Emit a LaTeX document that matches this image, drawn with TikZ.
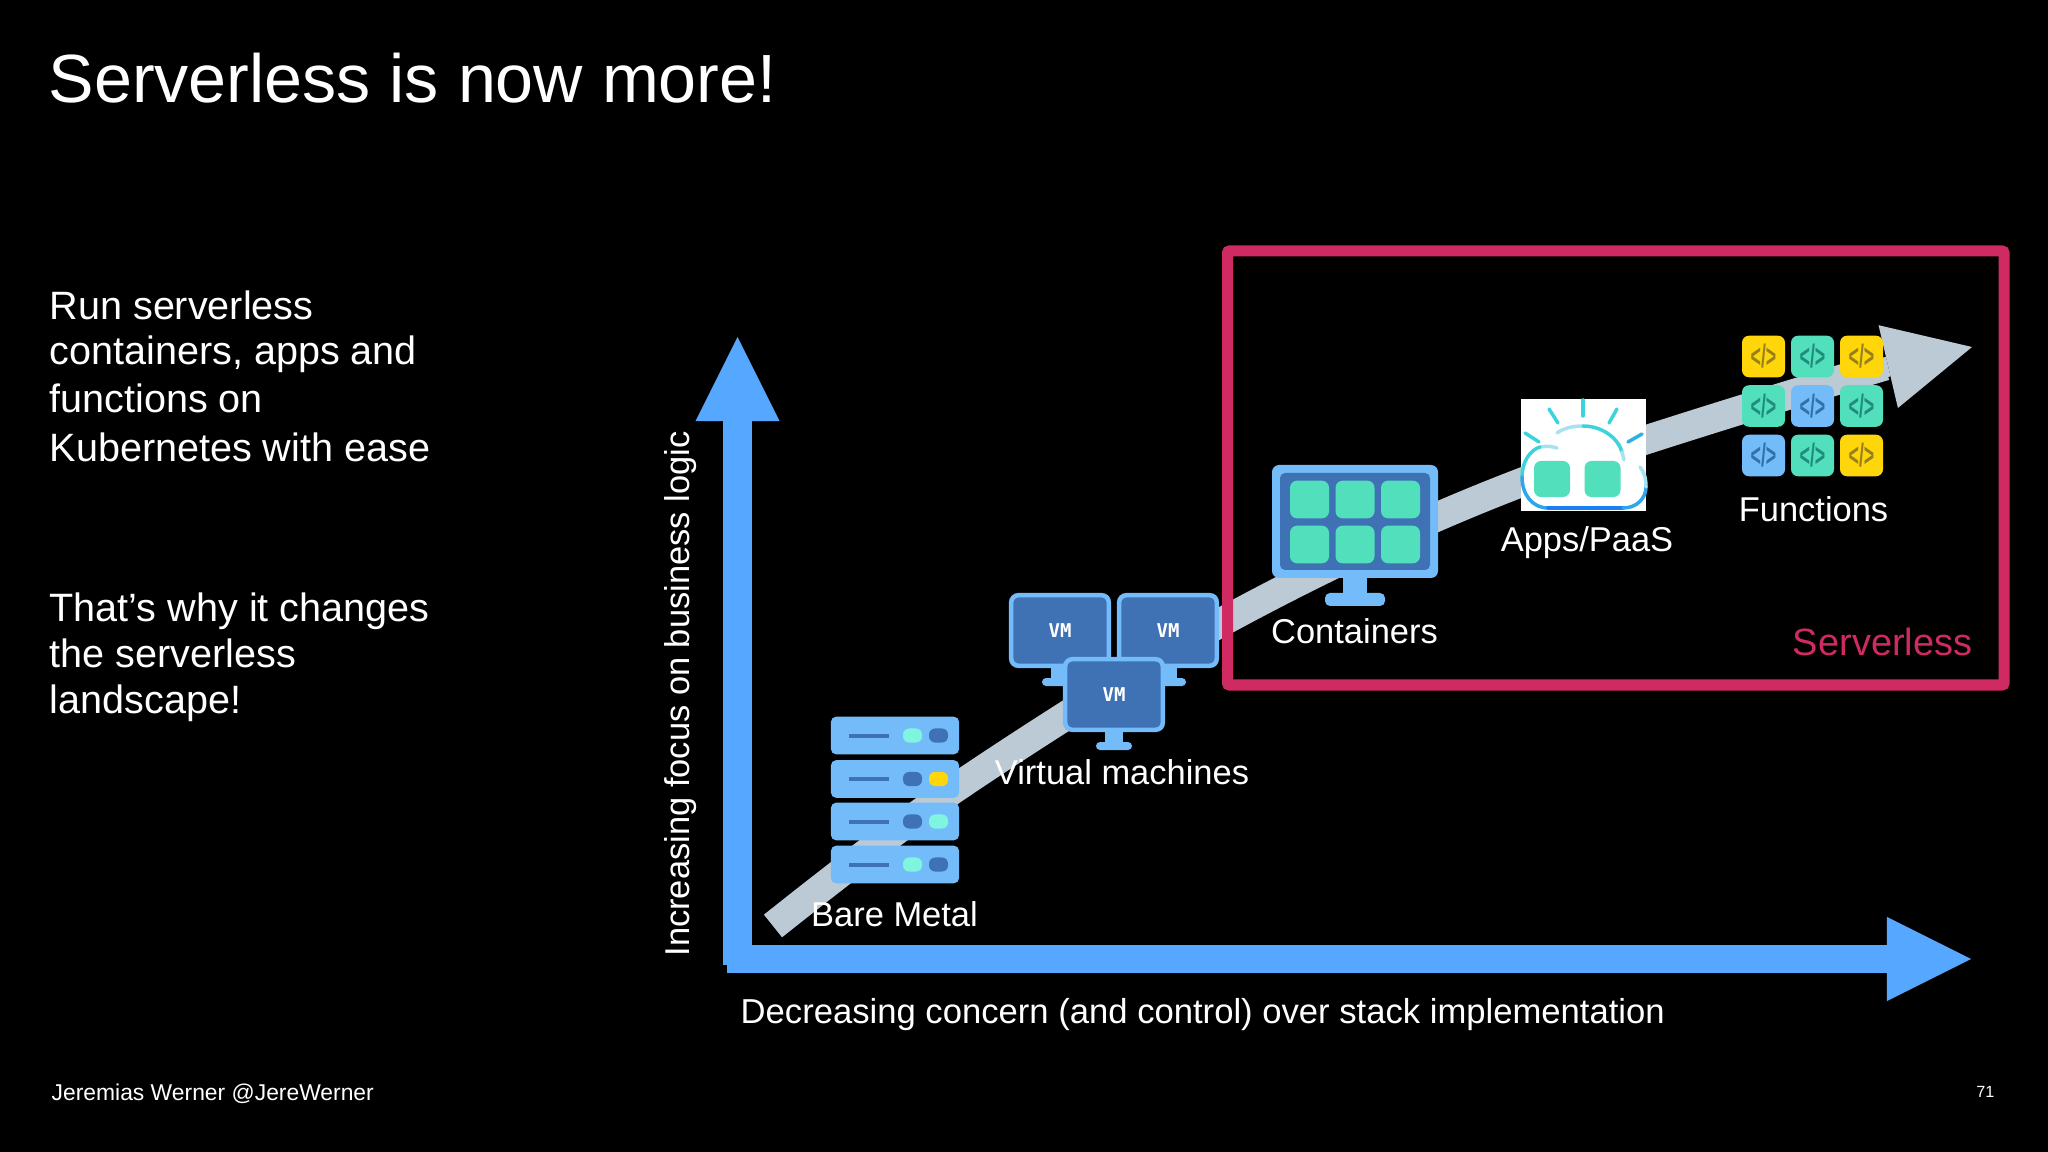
\documentclass[tikz,border=0pt]{standalone}
\usepackage{fontspec}
\setmainfont{Liberation Sans}
\newfontfamily\vmfont{DejaVu Sans Mono}
\usetikzlibrary{arrows.meta}

\definecolor{axisblue}{HTML}{55A7FF}
\definecolor{trendgrey}{HTML}{BCCAD6}
\definecolor{boxpink}{HTML}{D02A62}
\definecolor{iconlight}{HTML}{74BBFA}
\definecolor{icondark}{HTML}{3F72B5}
\definecolor{iconmint}{HTML}{52DFBB}
\definecolor{ledmint}{HTML}{7FF5E0}
\definecolor{iconyellow}{HTML}{FFD60A}
\definecolor{glyphyellow}{HTML}{96801E}
\definecolor{glyphmint}{HTML}{1F8C7C}
\definecolor{glyphblue}{HTML}{2F72A8}
\definecolor{raymint}{HTML}{3CD3DC}
\definecolor{raysky}{HTML}{2CB0E8}
\definecolor{cloudblue}{HTML}{1A7FF0}
\definecolor{cloudsky}{HTML}{2FA6EA}
\definecolor{cloudpale}{HTML}{A8E2F2}

\tikzset{
    axis arrow/.style={draw=axisblue, line width=0.285cm, -{Triangle[length=0.84cm, width=0.84cm, line width=0pt]}},
    trend line/.style={draw=trendgrey, line width=0.29cm},
    trend head/.style={draw=trendgrey, line width=0.2cm, -{Triangle[length=0.86cm, width=0.85cm, line width=0pt]}},
    stage label/.style={text=white, inner sep=0pt, anchor=base, font=\fontsize{9.8pt}{11pt}\selectfont},
    body text/.style={text=white, inner sep=0pt, anchor=base west, font=\fontsize{11.25pt}{13pt}\selectfont},
    server/.style={fill=iconlight, rounded corners=0.05cm, minimum width=1.28cm, minimum height=0.375cm, inner sep=0pt},
    led/.style={rounded corners=0.06cm, minimum width=0.19cm, minimum height=0.14cm, inner sep=0pt},
    vm screen/.style={draw=iconlight, fill=icondark, line width=0.045cm, rounded corners=0.07cm, minimum width=0.975cm, minimum height=0.705cm, inner sep=0pt, text=white, font=\vmfont\bfseries\fontsize{5.4pt}{6pt}\selectfont},
    stand/.style={fill=iconlight},
    tile/.style={fill=iconmint, rounded corners=0.07cm, minimum width=0.39cm, minimum height=0.375cm, inner sep=0pt},
    fn tile/.style={rounded corners=0.07cm, minimum width=0.43cm, minimum height=0.415cm, inner sep=0pt, font=\bfseries\fontsize{9.2pt}{10pt}\selectfont},
    ray/.style={line width=0.035cm, line cap=round},
    cloud edge/.style={line width=0.035cm, line cap=round}
}

\begin{document}
\begin{tikzpicture}[x=0.01cm, y=-0.01cm]
    % Slide background
    \fill[black] (0,0) rectangle (2048,1152);
    \useasboundingbox (0,0) rectangle (2048,1152);

    % Slide text
    \node[text=white, inner sep=0pt, anchor=base west, font=\fontsize{19.4pt}{22pt}\selectfont] (title) at (48,103) {Serverless is now more!};
    \node[body text] (introa) at (49,319.5) {Run serverless};
    \node[body text] (introb) at (49,365) {containers, apps and};
    \node[body text] (introc) at (49,413) {functions on};
    \node[body text] (introd) at (49,462) {Kubernetes with ease};
    \node[body text] (whya) at (49,621) {That’s why it changes};
    \node[body text] (whyb) at (49,667) {the serverless};
    \node[body text] (whyc) at (49,713.5) {landscape!};
    \node[text=white, inner sep=0pt, anchor=base west, font=\fontsize{6.5pt}{8pt}\selectfont] (speaker) at (51,1100) {Jeremias Werner @JereWerner};
    \node[text=white, inner sep=0pt, anchor=base east, font=\fontsize{4.6pt}{6pt}\selectfont] (page) at (1995,1097) {71};

    % Trend arrow
    \draw[trend line] plot[smooth, tension=0.55] coordinates {(773,926) (960,785) (1233,616) (1520,483) (1885,366)};
    \coordinate (trendbase) at (1878,369);
    \coordinate (trendtip) at (1972,347);
    \draw[trend head] (trendbase) -- (trendtip);

    % Axes
    \coordinate (origin) at (727,959);
    \coordinate (xtip) at (1971,959);
    \coordinate (ybottom) at (737.5,965);
    \coordinate (ytip) at (737.5,337);
    \draw[axis arrow] (origin) -- (xtip);
    \draw[axis arrow] (ybottom) -- (ytip);
    \node[stage label, rotate=90] (ylabel) at (689,694) {Increasing focus on business logic};
    \node[stage label, anchor=base west, font=\fontsize{9.85pt}{11pt}\selectfont] (xlabel) at (740,1023) {Decreasing concern (and control) over stack implementation};

    % Serverless box
    \draw[draw=boxpink, line width=0.11cm, rounded corners=0.02cm] (1227.5,251) rectangle (2004,685);
    \node[text=boxpink, inner sep=0pt, anchor=base east, font=\fontsize{10.8pt}{13pt}\selectfont] (boxlabel) at (1973,656) {Serverless};

    % Bare metal
    \foreach \y/\ca/\cb [count=\i] in {735.5/ledmint/icondark, 779/icondark/iconyellow, 821.5/icondark/ledmint, 864.5/ledmint/icondark} {
        \node[server] (srv\i) at (895,\y) {};
        \fill[icondark] (849,\y-2) rectangle (889,\y+2);
        \node[led, fill=\ca] (leda\i) at (912.5,\y) {};
        \node[led, fill=\cb] (ledb\i) at (938.5,\y) {};
    }
    \node[stage label] (bare) at (894.5,926) {Bare Metal};

    % Virtual machines
    \foreach \vx/\vy/\vname in {1060/630.5/vma, 1168/630.5/vmb, 1114/694.5/vmc} {
        \fill[stand] (\vx-9,\vy+35) rectangle (\vx+9,\vy+50);
        \fill[stand, rounded corners=0.04cm] (\vx-18,\vy+47.5) rectangle (\vx+18,\vy+55.5);
        \node[vm screen] (\vname) at (\vx,\vy) {VM};
    }
    \node[stage label] (vmlabel) at (1122,784) {Virtual machines};

    % Containers
    \fill[stand] (1343,575) rectangle (1367,598);
    \fill[stand, rounded corners=0.05cm] (1325,593) rectangle (1385,606);
    \fill[iconlight, rounded corners=0.07cm] (1272,465) rectangle (1438,578);
    \fill[icondark, rounded corners=0.05cm] (1280,473) rectangle (1430,570);
    \foreach \x [count=\i] in {1309.5,1355,1400.5}
        \foreach \y [count=\j] in {499.5,544.5}
            \node[tile] (cont\i\j) at (\x,\y) {};
    \node[stage label] (contlabel) at (1354.5,643) {Containers};

    % Apps
    \fill[white] (1521,399) rectangle (1646,511);
    \node[tile, minimum width=0.36cm, minimum height=0.36cm] (appa) at (1552,479) {};
    \node[tile, minimum width=0.36cm, minimum height=0.36cm] (appb) at (1602.5,479) {};
    \draw[ray, draw=raymint] (1525,433) -- (1539,442);
    \draw[ray, draw=raymint] (1549,409) -- (1558,423);
    \draw[ray, draw=raymint] (1583,400) -- (1583,416);
    \draw[ray, draw=raymint] (1617,409) -- (1609,423);
    \draw[ray, draw=raysky] (1642,434) -- (1628,442);
    \draw[cloud edge, draw=cloudpale] (1557,448) .. controls (1551,446) and (1546,446) .. (1540,447);
    \draw[cloud edge, draw=raymint] (1540,447) .. controls (1530,450) and (1522,462) .. (1522,477);
    \draw[cloud edge, draw=cloudsky] (1522,477) .. controls (1522,494) and (1532,508) .. (1548,508);
    \draw[cloud edge, draw=cloudblue] (1548,508) -- (1623,508);
    \draw[cloud edge, draw=cloudsky] (1623,508) .. controls (1637,508) and (1646,498) .. (1646,487);
    \draw[cloud edge, draw=cloudpale] (1646,487) .. controls (1646,478) and (1644,472) .. (1640,467);
    \draw[cloud edge, draw=cloudpale] (1557,433) .. controls (1564,428) and (1573,426) .. (1583,426);
    \draw[cloud edge, draw=raymint] (1583,426) .. controls (1602,426) and (1618,438) .. (1622,452);
    \draw[cloud edge, draw=cloudpale] (1622,452) -- (1624,460);
    \node[stage label] (applabel) at (1587,551) {Apps/PaaS};

    % Functions
    \foreach \x/\y/\tc/\gc [count=\i] in {
        1763.5/356.5/iconyellow/glyphyellow, 1812.5/356.5/iconmint/glyphmint, 1861.5/356.5/iconyellow/glyphyellow,
        1763.5/406/iconmint/glyphmint, 1812.5/406/iconlight/glyphblue, 1861.5/406/iconmint/glyphmint,
        1763.5/455.5/iconlight/glyphblue, 1812.5/455.5/iconmint/glyphmint, 1861.5/455.5/iconyellow/glyphyellow}
        \node[fn tile, fill=\tc, text=\gc] (fn\i) at (\x,\y) {\scalebox{0.55}[1]{</>}};
    \node[stage label] (fnlabel) at (1813.5,522) {Functions};
\end{tikzpicture}
\end{document}
